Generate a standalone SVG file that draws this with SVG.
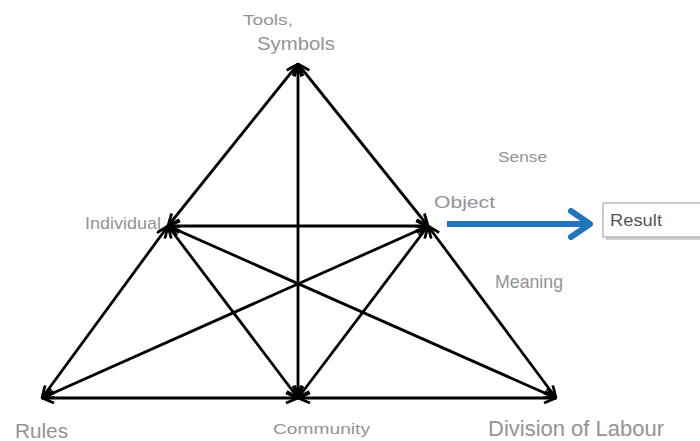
<svg xmlns="http://www.w3.org/2000/svg" width="700" height="441" viewBox="0 0 700 441">
<defs>
<marker id="ah" viewBox="0 0 14 12" markerWidth="14" markerHeight="12" refX="13" refY="6" orient="auto-start-reverse" markerUnits="userSpaceOnUse">
<path d="M1,1 L13,6 L1,11" fill="none" stroke="#000" stroke-width="2.8" stroke-linejoin="miter"/>
</marker>
<marker id="bh" viewBox="0 0 26 32" markerWidth="26" markerHeight="32" refX="23" refY="16" orient="auto" markerUnits="userSpaceOnUse">
<path d="M4,3 L23,16 L4,29" fill="none" stroke="#1f74bd" stroke-width="6" stroke-linecap="round" stroke-linejoin="round"/>
</marker>
</defs>
<style>
.c{stroke:#000;stroke-width:2.8;fill:none;marker-start:url(#ah);marker-end:url(#ah)}
.l{font-family:"Liberation Sans",Arial,sans-serif;fill:#939393}
</style>
<g id="connectors">
<line class="c" x1="298" y1="64" x2="168" y2="226"/>
<line class="c" x1="298" y1="64" x2="428" y2="226"/>
<line class="c" x1="298" y1="64" x2="298" y2="398"/>
<line class="c" x1="168" y1="226" x2="428" y2="226"/>
<line class="c" x1="168" y1="226" x2="42" y2="398"/>
<line class="c" x1="168" y1="226" x2="298" y2="398"/>
<line class="c" x1="168" y1="226" x2="556" y2="398"/>
<line class="c" x1="428" y1="226" x2="42" y2="398"/>
<line class="c" x1="428" y1="226" x2="298" y2="398"/>
<line class="c" x1="428" y1="226" x2="556" y2="398"/>
<line class="c" x1="42" y1="398" x2="298" y2="398"/>
<line class="c" x1="298" y1="398" x2="556" y2="398"/>
<line x1="447" y1="224" x2="590" y2="224" stroke="#1f74bd" stroke-width="6" marker-end="url(#bh)"/>
</g>
<g id="tools">
<text class="l" x="243" y="25" font-size="14" textLength="50" lengthAdjust="spacingAndGlyphs">Tools,</text>
<text class="l" x="257" y="50" font-size="18" textLength="78" lengthAdjust="spacingAndGlyphs">Symbols</text>
</g>
<g id="individual"><text class="l" x="85" y="229" font-size="17" textLength="76" lengthAdjust="spacingAndGlyphs">Individual</text></g>
<g id="object"><text class="l" x="434" y="208" font-size="16" textLength="61" lengthAdjust="spacingAndGlyphs">Object</text></g>
<g id="sense"><text class="l" x="498" y="162" font-size="14" textLength="49" lengthAdjust="spacingAndGlyphs">Sense</text></g>
<g id="meaning"><text class="l" x="495" y="288" font-size="18" textLength="68" lengthAdjust="spacingAndGlyphs">Meaning</text></g>
<g id="rules"><text class="l" x="15" y="438" font-size="20" textLength="53" lengthAdjust="spacingAndGlyphs">Rules</text></g>
<g id="community"><text class="l" x="273" y="434" font-size="14" textLength="97" lengthAdjust="spacingAndGlyphs">Community</text></g>
<g id="division"><text class="l" x="488" y="436" font-size="22" textLength="176" lengthAdjust="spacingAndGlyphs" fill="#7a7a7a">Division of Labour</text></g>
<g id="result">
<rect x="606" y="206" width="110" height="34" fill="#d0d0d0"/>
<rect x="603" y="203" width="110" height="34" fill="#fff" stroke="#9a9a9a" stroke-width="1"/>
<text x="610" y="226" font-family="Liberation Sans,Arial,sans-serif" font-size="16" textLength="52" lengthAdjust="spacingAndGlyphs" fill="#555">Result</text>
</g>
</svg>
